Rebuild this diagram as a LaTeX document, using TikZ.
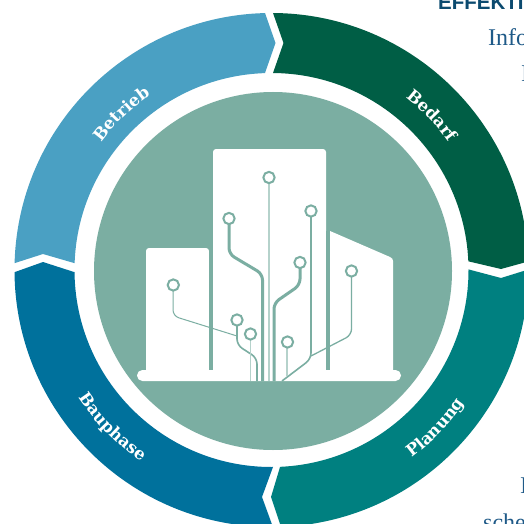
\documentclass[tikz,border=0pt]{standalone}
\usepackage{fontspec}
\setmainfont{DejaVu Serif}
\newfontfamily\bodyserif{Liberation Serif}
\newfontfamily\headsans{Liberation Sans}
\usetikzlibrary{decorations.text}
\definecolor{cBetrieb}{HTML}{4AA0C3}
\definecolor{cBedarf}{HTML}{005E45}
\definecolor{cPlanung}{HTML}{008080}
\definecolor{cBauphase}{HTML}{00719C}
\definecolor{cDisc}{HTML}{7BAEA2}
\definecolor{cLight}{HTML}{B5D2CB}
\definecolor{cHead}{HTML}{0B4A6F}
\definecolor{cBody}{HTML}{1F5A88}
\tikzset{
  seglabel/.style={decorate,decoration={text along path,text align=center,
     text={|\fontsize{16.5}{17}\selectfont\bfseries\color{white}|#1}}},
  wire/.style={draw=cDisc,line width=#1,rounded corners=6pt},
  wirelight/.style={draw=cLight,line width=#1,rounded corners=5pt},
  pad/.style={circle,draw=cDisc,fill=white,line width=2pt,minimum size=11.3pt,inner sep=0pt},
  bldg/.style={fill=white,draw=none},
  ringfill/.style={fill=#1,even odd rule}
}
\newcommand{\ringpath}{(271.5,270) circle[radius=257] (271.5,270) circle[radius=197]}
\begin{document}
\begin{tikzpicture}[x=1pt,y=-1pt]
\useasboundingbox (0,0) rectangle (524,524);
\clip (0,0) rectangle (524,524);
\fill[white] (0,0) rectangle (524,524);
% ring segments
\begin{scope}
\clip (0,0) -- (265,0) -- (265,13) -- (275.5,43) -- (265,73) -- (271.5,270) -- (74,263) -- (43,254) -- (15,263) -- (0,263) -- cycle;
\path[ringfill=cBetrieb] \ringpath;
\end{scope}
\begin{scope}
\clip (273,0) -- (273,13) -- (283.5,43) -- (273,73) -- (271.5,270) -- (467,261) -- (501,269) -- (530,261) -- (524,0) -- cycle;
\path[ringfill=cBedarf] \ringpath;
\end{scope}
\begin{scope}
\clip (530,269) -- (501,278) -- (467,269) -- (271.5,270) -- (280,467) -- (271,497) -- (282,530) -- (530,530) -- cycle;
\path[ringfill=cPlanung] \ringpath;
\end{scope}
\begin{scope}
\clip (0,272) -- (15,272) -- (43,262) -- (74,272) -- (271.5,270) -- (273,467) -- (262,497) -- (274,530) -- (0,530) -- cycle;
\path[ringfill=cBauphase] \ringpath;
\end{scope}
% disc
\fill[cDisc] (273,271) circle[radius=179];
% buildings
\fill[bldg,rounded corners=3pt] (146,375) -- (146,248) -- (209,248) -- (209,375) -- cycle;
\fill[bldg,rounded corners=3pt] (213,375) -- (213,149) -- (326,149) -- (326,375) -- cycle;
\fill[bldg] (330,375) -- (330,231) -- (390,257) .. controls (392,258) and (393,259) .. (393,261) -- (393,375) -- cycle;
\fill[cDisc] (209,248) rectangle (213,371);
\fill[cDisc] (326,231) rectangle (330,371);
\fill[bldg,rounded corners=5.4pt] (137,370) rectangle (401,381);
% wires
\path[wire=1pt] (173,285) -- (173,316) -- (237,336);
\path[wire=1.6pt] (237,320) -- (237,345) -- (257,358) -- (257,381);
\path[wirelight=1.8pt] (250.5,334) -- (250.5,381);
\path[wire=3pt] (229,218) -- (229,254) -- (262.5,274) -- (262.5,381);
\path[wirelight=1.2pt] (269,177) -- (269,381);
\path[wire=1.6pt] (311,211) -- (311,359) -- (282,381);
\path[wire=1.3pt] (351.5,271) -- (351.5,335) -- (311,356);
\path[wire=3pt] (300,262) -- (300,285) -- (274,303) -- (274,381);
\path[wirelight=1.8pt] (286.7,342) -- (286.7,376);
% pads
\node[pad] (p1) at (173.3,285) {};
\node[pad] (p2) at (237,320) {};
\node[pad] (p3) at (250.5,334) {};
\node[pad] (p4) at (229,218.5) {};
\node[pad] (p5) at (269,177.5) {};
\node[pad] (p6) at (311,211) {};
\node[pad] (p7) at (300,262.5) {};
\node[pad] (p8) at (351.5,271) {};
\node[pad] (p9) at (287.5,342) {};
% labels
\path[seglabel=Betrieb] (272,270) ++(-159:213) arc[start angle=-159,end angle=-109,radius=213];
\path[seglabel=Bedarf] (272,270) ++(-69:218) arc[start angle=-69,end angle=-19,radius=218];
\path[seglabel=Planung] (272,270) ++(69:234) arc[start angle=69,end angle=19,radius=234];
\path[seglabel=Bauphase] (272,270) ++(160.5:232) arc[start angle=160.5,end angle=110.5,radius=232];
% cropped neighbouring text
\node[anchor=base west,inner sep=0pt,text=cHead,font=\headsans\bfseries\fontsize{20.5}{21}\selectfont] (head) at (438,9.5) {EFFEKTI};
\node[anchor=base west,inner sep=0pt,text=cBody,font=\bodyserif\fontsize{24}{26}\selectfont] (info) at (488,45.5) {Info};
\node[anchor=base west,inner sep=0pt,text=cBody,font=\bodyserif\fontsize{24}{26}\selectfont] (l2) at (521,82) {I};
\node[anchor=base west,inner sep=0pt,text=cBody,font=\bodyserif\fontsize{24}{26}\selectfont] (l3) at (520,493) {I};
\node[anchor=base west,inner sep=0pt,text=cBody,font=\bodyserif\fontsize{24}{26}\selectfont] (l4) at (483,530) {sche};
\end{tikzpicture}
\end{document}
